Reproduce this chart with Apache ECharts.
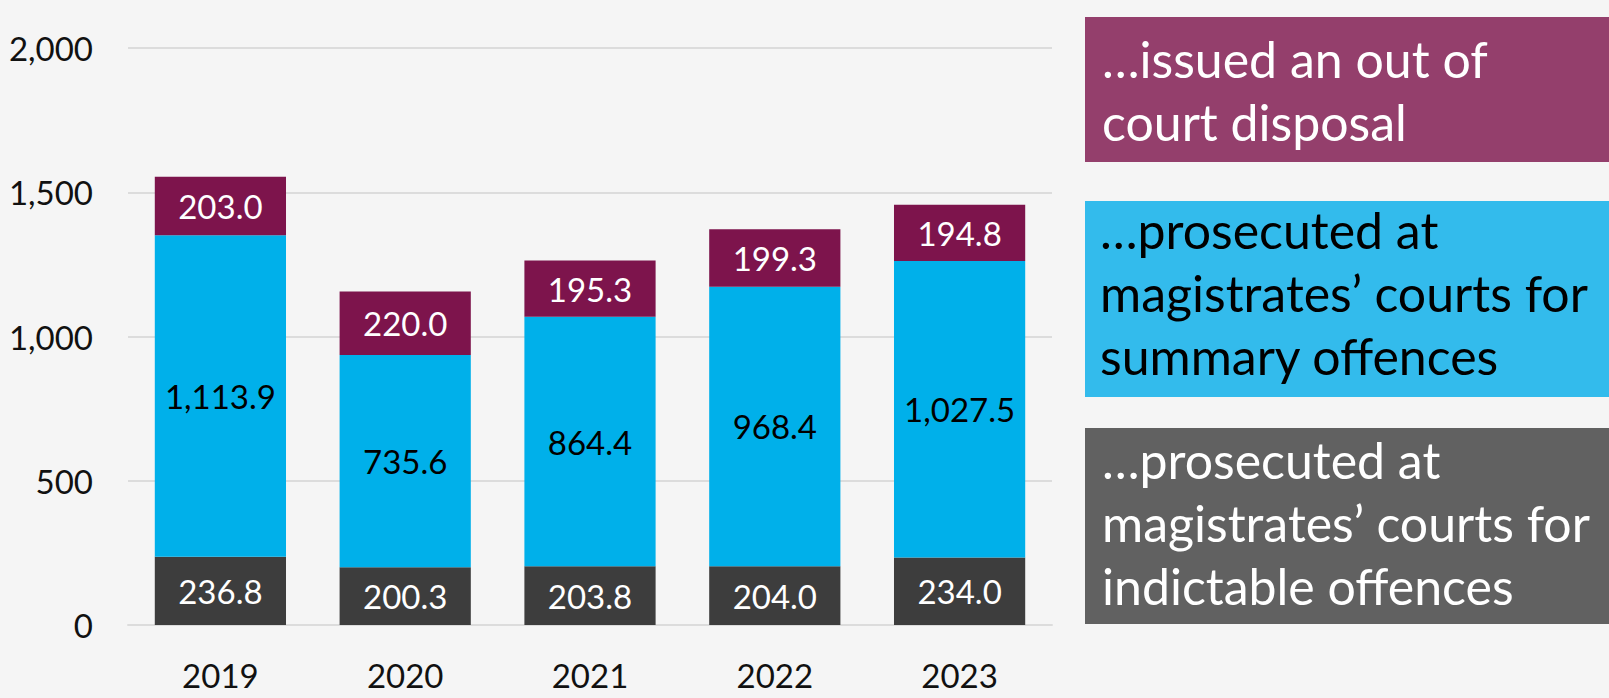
<!DOCTYPE html>
<html>
<head>
<meta charset="utf-8">
<script src="https://cdn.jsdelivr.net/npm/echarts@6/dist/echarts.min.js"></script>
<style>
html,body{margin:0;padding:0;background:#f5f5f5;}
#chart{width:1609px;height:698px;}
</style>
</head>
<body>
<div id="chart"></div>
<script>
const years = ['2019', '2020', '2021', '2022', '2023'];
const indictable = [236.8, 200.3, 203.8, 204.0, 234.0];
const summary = [1113.9, 735.6, 864.4, 968.4, 1027.5];
const outOfCourt = [203.0, 220.0, 195.3, 199.3, 194.8];
const yTicks = [0, 500, 1000, 1500, 2000];
const seriesNames = [
  '…issued an out of\ncourt disposal',
  '…prosecuted at\nmagistrates’ courts for\nsummary offences',
  '…prosecuted at\nmagistrates’ courts for\nindictable offences'
];

const FONT = 'Lato, "Open Sans", sans-serif';
const fmt1 = v => v.toLocaleString('en-US', {minimumFractionDigits: 1, maximumFractionDigits: 1});

function seg(name, data, color, labelColor) {
  return {
    name: name, type: 'bar', stack: 'total', data: data,
    barCategoryGap: '29%',
    itemStyle: {color: color},
    label: {show: true, position: 'inside', color: labelColor, fontFamily: FONT, fontSize: 33,
      formatter: p => fmt1(p.value)},
    emphasis: {disabled: true}
  };
}

const chart = echarts.init(document.getElementById('chart'), null, {renderer: 'svg'});
chart.setOption({
  backgroundColor: '#f5f5f5',
  animation: false,
  grid: {left: 128, right: 557, top: 48, bottom: 73, containLabel: false},
  xAxis: {
    type: 'category', data: years,
    axisTick: {show: false},
    axisLine: {show: true, lineStyle: {color: '#dcdcdc', width: 2}},
    axisLabel: {color: '#111', fontFamily: FONT, fontSize: 33, margin: 33}
  },
  yAxis: {
    type: 'value', min: yTicks[0], max: yTicks[yTicks.length - 1], interval: 500,
    axisLine: {show: false}, axisTick: {show: false},
    splitLine: {lineStyle: {color: '#dcdcdc', width: 2}},
    axisLabel: {color: '#111', fontFamily: FONT, fontSize: 33, margin: 35,
      formatter: v => v.toLocaleString('en-US')}
  },
  series: [
    seg(seriesNames[2], indictable, '#3d3d3d', '#ffffff'),
    seg(seriesNames[1], summary, '#00b0ea', '#000000'),
    seg(seriesNames[0], outOfCourt, '#7d144c', '#ffffff')
  ],
  graphic: [
    {type: 'rect', shape: {x: 1085, y: 17, width: 524, height: 145}, style: {fill: '#943f6c'}},
    {type: 'text', x: 1102, y: 27, style: {text: seriesNames[0], fill: '#ffffff', font: '50px ' + FONT, lineHeight: 63, verticalAlign: 'top'}},
    {type: 'rect', shape: {x: 1085, y: 201, width: 524, height: 196}, style: {fill: '#33bbec'}},
    {type: 'text', x: 1100, y: 198, style: {text: seriesNames[1], fill: '#000000', font: '50px ' + FONT, lineHeight: 63, verticalAlign: 'top'}},
    {type: 'rect', shape: {x: 1085, y: 428, width: 524, height: 196}, style: {fill: '#616161'}},
    {type: 'text', x: 1102, y: 428, style: {text: seriesNames[2], fill: '#ffffff', font: '50px ' + FONT, lineHeight: 63, verticalAlign: 'top'}}
  ]
});
</script>
</body>
</html>
